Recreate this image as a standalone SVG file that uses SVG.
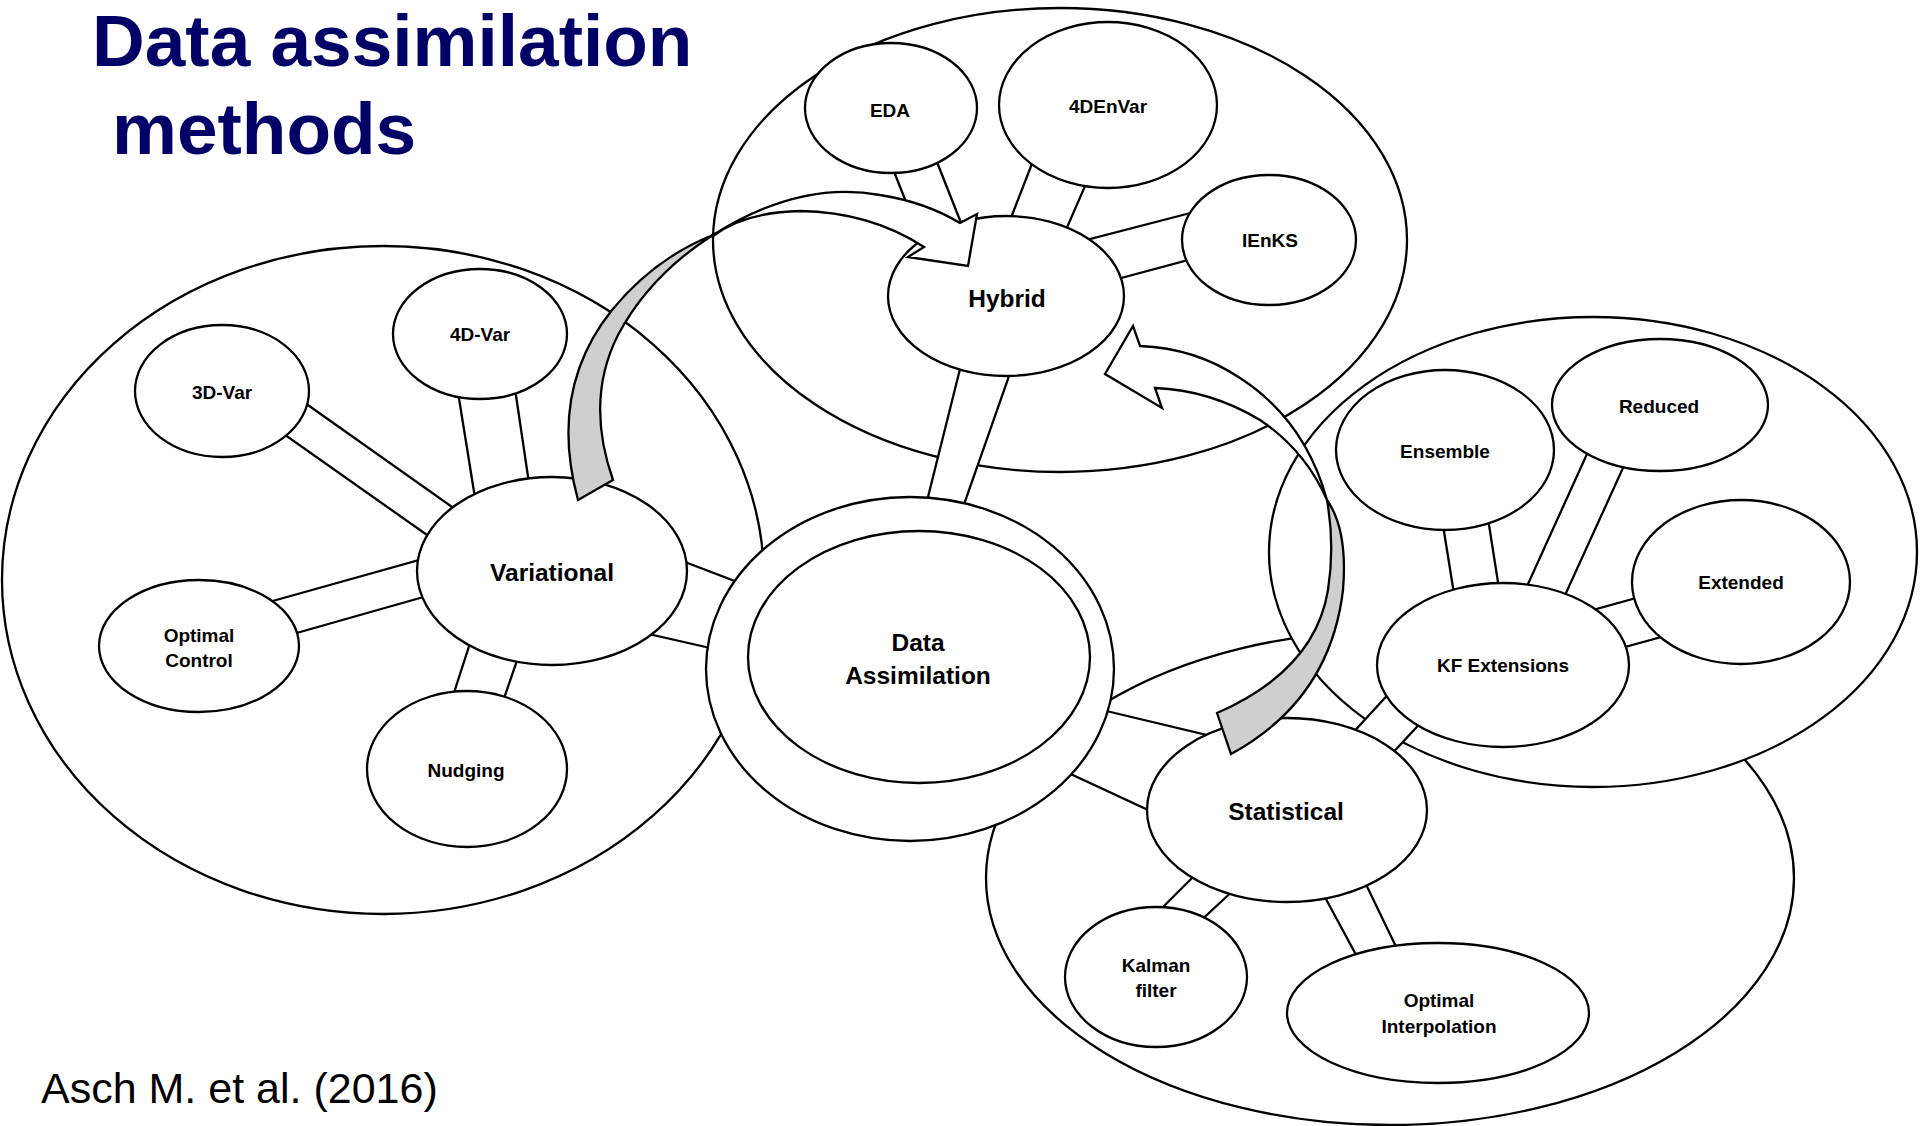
<svg xmlns="http://www.w3.org/2000/svg" width="1920" height="1126" viewBox="0 0 1920 1126">
  <style>
    .cluster { fill: none; stroke: #000; stroke-width: 2.3; }
    .cluster-solid { fill: #fff; stroke: #000; stroke-width: 2.3; }
    .band { fill: #fff; stroke: #000; stroke-width: 2.3; stroke-linejoin: miter; }
    .node ellipse { fill: #fff; stroke: #000; stroke-width: 2.3; }
    .lbl { font-family: "Liberation Sans", Arial, sans-serif; font-weight: bold; font-size: 19px; text-anchor: middle; fill: #000; }
    .big { font-size: 24.5px; }
    .title { font-family: "Liberation Sans", Arial, sans-serif; font-weight: bold; font-size: 73px; fill: #000066; }
    .cite { font-family: "Liberation Sans", Arial, sans-serif; font-size: 43px; fill: #000; }
    .arrow-back { fill: #cfcfcf; stroke: #000; stroke-width: 2.3; stroke-linejoin: miter; }
    .arrow-front { fill: #fff; stroke: #000; stroke-width: 2.3; stroke-linejoin: miter; }
  </style>

  <rect x="0" y="0" width="1920" height="1126" fill="#fff"/>

  <!-- title and reference -->
  <g id="title">
    <text class="title" x="92" y="66">Data assimilation</text>
    <text class="title" x="112" y="154">methods</text>
  </g>
  <text class="cite" x="41" y="1103">Asch M. et al. (2016)</text>

  <!-- family outlines -->
  <g id="clusters">
    <ellipse id="cluster-variational" class="cluster" cx="383" cy="580" rx="381" ry="334"/>
    <ellipse id="cluster-hybrid" class="cluster" cx="1060" cy="240" rx="347" ry="232"/>
    <ellipse id="cluster-statistical" class="cluster" cx="1390" cy="878" rx="404" ry="247"/>
    <ellipse id="cluster-kf" class="cluster-solid" cx="1593" cy="552" rx="324" ry="235"/>
  </g>

  <!-- double-line links between nodes -->
  <g id="connectors">
    <polygon class="band" points="298,398 462,514 437,542 278,430"/>
    <polygon class="band" points="457,386 476,504 530,490 514,382"/>
    <polygon class="band" points="262,604 430,557 434,594 286,636"/>
    <polygon class="band" points="451,702 473,634 520,652 501,707"/>
    <polygon class="band" points="677,559 745,585 719,650 640,632"/>
    <polygon class="band" points="962,361 925,509 961,513 1015,359"/>
    <polygon class="band" points="1098,709 1219,738 1159,815 1062,770"/>
    <polygon class="band" points="1199,871 1155,915 1196,925 1238,886"/>
    <polygon class="band" points="1320,888 1361,964 1400,955 1362,876"/>
    <polygon class="band" points="1394,688 1349,737 1387,759 1426,717"/>
    <polygon class="band" points="1442,519 1455,600 1500,595 1487,512"/>
    <polygon class="band" points="1592,443 1523,595 1561,604 1628,457"/>
    <polygon class="band" points="1647,595 1586,612 1614,650 1672,634"/>
    <polygon class="band" points="1202,210 1079,242 1110,281 1199,257"/>
    <polygon class="band" points="1035,156 1007,228 1062,239 1089,177"/>
    <polygon class="band" points="891,164 925,250 965,233 933,152"/>
  </g>

  <!-- hybrid family -->
  <g id="node-eda" class="node">
    <ellipse cx="891" cy="108" rx="86" ry="65"/>
    <text class="lbl" x="890" y="117">EDA</text>
  </g>
  <g id="node-4denvar" class="node">
    <ellipse cx="1108" cy="105" rx="109" ry="83"/>
    <text class="lbl" x="1108" y="113">4DEnVar</text>
  </g>
  <g id="node-ienks" class="node">
    <ellipse cx="1269" cy="240" rx="87" ry="65"/>
    <text class="lbl" x="1270" y="247">IEnKS</text>
  </g>
  <g id="node-hybrid" class="node">
    <ellipse cx="1006" cy="296" rx="118" ry="80"/>
    <text class="lbl big" x="1007" y="307">Hybrid</text>
  </g>

  <!-- variational family -->
  <g id="node-3dvar" class="node">
    <ellipse cx="222" cy="391" rx="87" ry="66"/>
    <text class="lbl" x="222" y="399">3D-Var</text>
  </g>
  <g id="node-4dvar" class="node">
    <ellipse cx="480" cy="334" rx="87" ry="65"/>
    <text class="lbl" x="480" y="341">4D-Var</text>
  </g>
  <g id="node-variational" class="node">
    <ellipse cx="552" cy="571" rx="135" ry="94"/>
    <text class="lbl big" x="552" y="581">Variational</text>
  </g>
  <g id="node-optimal-control" class="node">
    <ellipse cx="199" cy="646" rx="100" ry="66"/>
    <text class="lbl" x="199" y="642">Optimal</text>
    <text class="lbl" x="199" y="667">Control</text>
  </g>
  <g id="node-nudging" class="node">
    <ellipse cx="467" cy="769" rx="100" ry="78"/>
    <text class="lbl" x="466" y="777">Nudging</text>
  </g>

  <!-- centre -->
  <g id="node-data-assimilation" class="node">
    <ellipse cx="910" cy="669" rx="204" ry="172"/>
    <ellipse cx="919" cy="657" rx="171" ry="126"/>
    <text class="lbl big" x="918" y="651">Data</text>
    <text class="lbl big" x="918" y="684">Assimilation</text>
  </g>

  <!-- statistical family -->
  <g id="node-statistical" class="node">
    <ellipse cx="1287" cy="810" rx="140" ry="92"/>
    <text class="lbl big" x="1286" y="820">Statistical</text>
  </g>
  <g id="node-kalman" class="node">
    <ellipse cx="1156" cy="977" rx="91" ry="70"/>
    <text class="lbl" x="1156" y="972">Kalman</text>
    <text class="lbl" x="1156" y="997">filter</text>
  </g>
  <g id="node-optimal-interpolation" class="node">
    <ellipse cx="1438" cy="1013" rx="151" ry="70"/>
    <text class="lbl" x="1439" y="1007">Optimal</text>
    <text class="lbl" x="1439" y="1033">Interpolation</text>
  </g>

  <!-- Kalman filter extensions -->
  <g id="node-ensemble" class="node">
    <ellipse cx="1445" cy="450" rx="109" ry="80"/>
    <text class="lbl" x="1445" y="458">Ensemble</text>
  </g>
  <g id="node-reduced" class="node">
    <ellipse cx="1660" cy="405" rx="108" ry="66"/>
    <text class="lbl" x="1659" y="413">Reduced</text>
  </g>
  <g id="node-extended" class="node">
    <ellipse cx="1741" cy="582" rx="109" ry="82"/>
    <text class="lbl" x="1741" y="589">Extended</text>
  </g>
  <g id="node-kf-extensions" class="node">
    <ellipse cx="1503" cy="665" rx="126" ry="82"/>
    <text class="lbl" x="1503" y="672">KF Extensions</text>
  </g>

  <!-- curved block arrows feeding Hybrid -->
  <g id="arrows">
    <g id="arrow-variational-hybrid">
      <path class="arrow-back" d="M578,500 Q548,390 612,310 Q655,258 713,235 Q650,275 618,335 Q585,400 613,480 Z"/>
      <path class="arrow-front" d="M713,235 Q800,180 880,195 Q925,202 960,223 L977,214 L968,266 L908,257 L924,247 Q870,212 800,211 Q745,212 713,236 Z"/>
    </g>
    <g id="arrow-statistical-hybrid">
      <path class="arrow-back" d="M1231,754 Q1330,700 1343,590 Q1348,530 1327,500 Q1335,545 1328,590 Q1315,670 1217,713 Z"/>
      <path class="arrow-front" d="M1327,500 Q1305,420 1240,378 Q1195,348 1140,346 L1133,326 L1105,374 L1162,408 L1155,388 Q1210,390 1260,420 Q1305,450 1327,500 Z"/>
    </g>
  </g>
</svg>
